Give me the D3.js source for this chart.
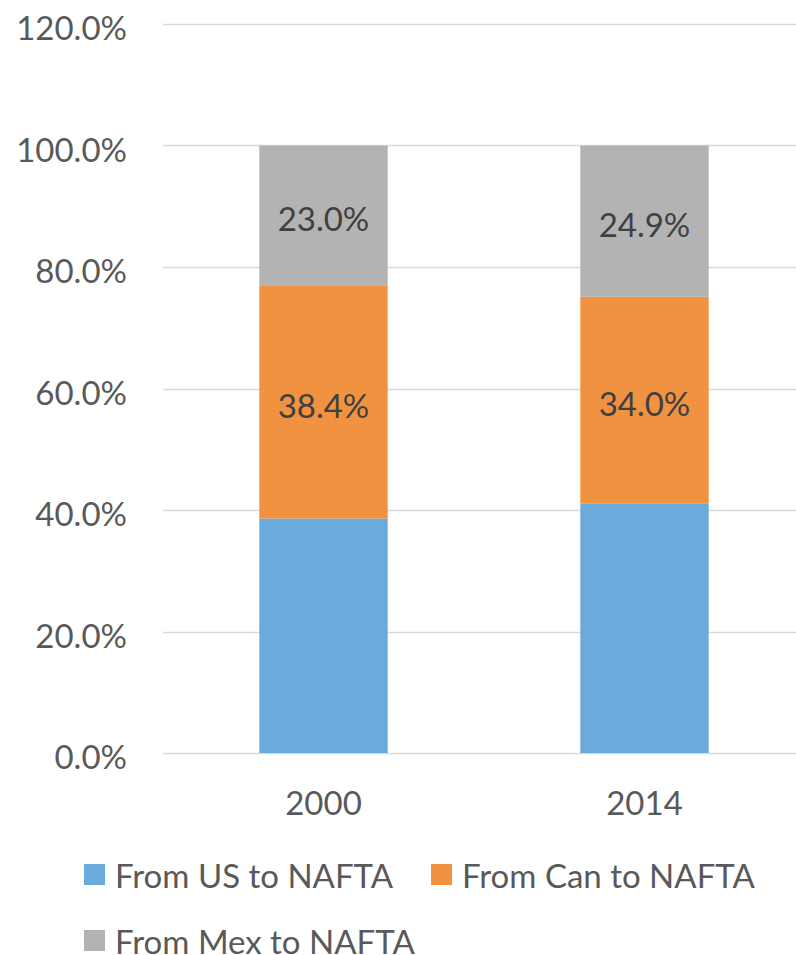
<!DOCTYPE html>
<html>
<head>
<meta charset="utf-8">
<script src="https://cdn.jsdelivr.net/npm/d3@7"></script>
<style>
  body { margin: 0; background: #fff; }
  text { font-family: Lato, "Liberation Sans", sans-serif; }
</style>
</head>
<body>
<div id="chart"></div>
<script>
// stacked shares of trade to NAFTA
const years = ["2000", "2014"]
const seriesNames = ["From US to NAFTA", "From Can to NAFTA", "From Mex to NAFTA"]
const fromUS = [38.6, 41.1]
const fromCan = [38.4, 34.0]
const fromMex = [23.0, 24.9]
const yTicks = [0, 20, 40, 60, 80, 100, 120]
const colors = ["#6AABDB", "#F19241", "#B3B3B3"]

let width = 796
let height = 955
let fs = 33

const svg = d3.select("#chart")
    .append("svg")
    .attr("width", width)
    .attr("height", height)

const x = d3.scaleBand()
    .domain(years)
    .range([163, 805])
    .paddingInner(0.6)
    .paddingOuter(0.3)

const y = d3.scaleLinear()
    .domain([0, 120])
    .range([753, 24])

// gridlines
svg.append("g")
    .selectAll("line")
    .data(yTicks)
    .enter()
    .append("line")
    .attr("x1", 163)
    .attr("x2", width)
    .attr("y1", d => Math.round(y(d)) + 0.5)
    .attr("y2", d => Math.round(y(d)) + 0.5)
    .attr("stroke", "#D9D9D9")
    .attr("stroke-width", 1.5)

svg.append("g")
    .selectAll("text")
    .data(yTicks)
    .enter()
    .append("text")
    .attr("x", 127)
    .attr("y", d => y(d) + 16)
    .attr("text-anchor", "end")
    .attr("fill", "#595959")
    .attr("font-size", fs)
    .text(d => d.toFixed(1) + "%")

// stack the series
const rows = years.map((yr, i) => ({ year: yr, 0: fromUS[i], 1: fromCan[i], 2: fromMex[i] }))
const stacked = d3.stack().keys([0, 1, 2])(rows)

stacked.forEach((layer, k) => {
    svg.append("g")
        .selectAll("rect")
        .data(layer)
        .enter()
        .append("rect")
        .attr("x", d => x(d.data.year))
        .attr("width", x.bandwidth())
        .attr("y", d => y(d[1]))
        .attr("height", d => y(d[0]) - y(d[1]))
        .attr("fill", colors[k])

    if (k > 0) {
        svg.append("g")
            .selectAll("text")
            .data(layer)
            .enter()
            .append("text")
            .attr("x", d => x(d.data.year) + x.bandwidth() / 2)
            .attr("y", d => y((d[0] + d[1]) / 2) + 16)
            .attr("text-anchor", "middle")
            .attr("fill", "#404040")
            .attr("font-size", fs)
            .text(d => (d[1] - d[0]).toFixed(1) + "%")
    }
})

// x labels
svg.append("g")
    .selectAll("text")
    .data(years)
    .enter()
    .append("text")
    .attr("x", d => x(d) + x.bandwidth() / 2)
    .attr("y", 815)
    .attr("text-anchor", "middle")
    .attr("fill", "#595959")
    .attr("font-size", fs)
    .text(d => d)

// legend
const legendPos = [[84, 864], [431, 864], [84, 930]]
const legend = svg.append("g")
    .selectAll("g")
    .data(seriesNames)
    .enter()
    .append("g")
    .attr("transform", (d, i) => "translate(" + legendPos[i][0] + "," + legendPos[i][1] + ")")

legend.append("rect")
    .attr("width", 21)
    .attr("height", 21)
    .attr("fill", (d, i) => colors[i])

legend.append("text")
    .attr("x", 31)
    .attr("y", 24)
    .attr("fill", "#595959")
    .attr("font-size", fs)
    .text(d => d)
</script>
</body>
</html>
